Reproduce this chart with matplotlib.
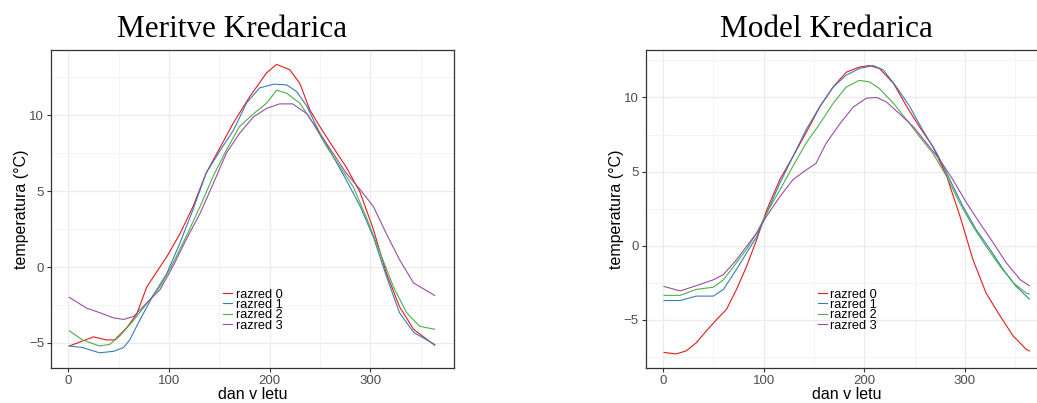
import numpy as np
import matplotlib
matplotlib.use("Agg")
import matplotlib.pyplot as plt
from matplotlib.ticker import MultipleLocator

plt.rcParams['font.family'] = ['Liberation Sans', 'DejaVu Sans']

series_names = ['razred 0', 'razred 1', 'razred 2', 'razred 3']
series_colors = ['#E41A1C', '#377EB8', '#4DAF4A', '#984EA3']

# Meritve Kredarica (measurements): day of year, temperature
meas_days = [
    [1, 25, 38, 46, 58, 68, 78, 88, 98, 111, 124, 137, 151, 164, 180, 197, 207, 220, 230, 240,
     250, 263, 276, 290, 303, 316, 329, 343, 364],
    [1, 14, 31, 45, 55, 61, 71, 84, 98, 111, 124, 137, 151, 164, 177, 190, 204, 217, 227, 237,
     250, 263, 276, 290, 303, 316, 329, 343, 364],
    [1, 14, 31, 41, 51, 65, 78, 91, 104, 117, 131, 144, 157, 170, 184, 197, 207, 217, 230, 243,
     257, 270, 283, 296, 310, 323, 336, 349, 364],
    [1, 18, 31, 45, 55, 65, 78, 91, 104, 117, 131, 144, 157, 170, 184, 197, 210, 223, 237, 250,
     263, 276, 290, 303, 316, 329, 343, 364],
]
meas_temp = [
    [-5.2, -4.6, -4.8, -4.8, -4.0, -3.1, -1.3, -0.3, 0.7, 2.2, 4.0, 6.2, 7.9, 9.5, 11.2, 12.8, 13.35, 13.0, 12.1, 10.35,
     9.25, 7.9, 6.6, 4.9, 2.5, -0.4, -2.6, -4.1, -5.15],
    [-5.2, -5.3, -5.65, -5.55, -5.3, -4.8, -3.5, -1.9, -0.4, 1.6, 3.8, 6.2, 7.7, 9.0, 10.8, 11.8, 12.05, 12.0, 11.55, 10.6,
     8.8, 7.3, 5.75, 4.0, 2.0, -0.6, -3.0, -4.3, -5.1],
    [-4.2, -4.8, -5.2, -5.1, -4.55, -3.5, -2.4, -1.3, 0.25, 2.0, 4.0, 6.0, 7.7, 9.25, 10.1, 10.8, 11.65, 11.45, 10.8, 9.5,
     7.9, 6.6, 5.3, 3.3, 0.9, -1.3, -3.0, -3.9, -4.1],
    [-2.0, -2.7, -3.0, -3.35, -3.45, -3.25, -2.35, -1.5, 0.05, 1.8, 3.55, 5.5, 7.5, 8.8, 9.9, 10.45, 10.75, 10.75, 10.1, 8.8,
     7.5, 6.2, 5.1, 4.0, 2.2, 0.5, -1.05, -1.87],
]

# Model Kredarica: day of year, temperature
model_days = [
    [1, 13, 23, 33, 43, 53, 63, 73, 83, 93, 103, 116, 129, 142, 156, 169, 182, 195, 205, 215,
     229, 242, 255, 268, 282, 295, 308, 321, 335, 348, 361, 364],
    [1, 17, 33, 50, 60, 73, 83, 93, 103, 116, 129, 142, 156, 169, 182, 195, 209, 219, 232, 245,
     258, 272, 285, 298, 311, 325, 338, 351, 364],
    [1, 17, 33, 50, 60, 73, 83, 93, 103, 116, 129, 142, 156, 169, 182, 195, 205, 215, 229, 242,
     255, 268, 282, 295, 308, 321, 335, 348, 361, 364],
    [1, 17, 33, 50, 60, 73, 83, 93, 103, 116, 129, 142, 152, 162, 176, 189, 202, 212, 222, 235,
     249, 262, 275, 288, 302, 315, 328, 341, 355, 364],
]
model_temp = [
    [-7.2, -7.3, -7.1, -6.55, -5.75, -5.0, -4.3, -2.95, -1.4, 0.4, 2.4, 4.45, 6.0, 7.6, 9.4, 10.7, 11.7, 12.05, 12.15, 11.95,
     10.95, 9.4, 8.0, 6.7, 4.65, 2.0, -0.95, -3.2, -4.75, -6.1, -7.0, -7.1],
    [-3.7, -3.7, -3.4, -3.4, -2.95, -1.6, -0.5, 0.6, 2.2, 4.2, 6.0, 7.8, 9.4, 10.7, 11.5, 11.95, 12.15, 11.85, 10.7, 9.4,
     7.8, 6.25, 4.45, 2.65, 1.1, -0.25, -1.6, -2.75, -3.6],
    [-3.35, -3.35, -2.95, -2.8, -2.3, -1.15, -0.25, 0.85, 2.2, 3.75, 5.35, 6.9, 8.25, 9.6, 10.7, 11.15, 11.05, 10.6, 9.6, 8.5,
     7.35, 6.25, 4.65, 2.85, 1.3, -0.05, -1.4, -2.5, -3.2, -3.25],
    [-2.75, -3.05, -2.7, -2.3, -1.95, -0.95, -0.05, 0.85, 2.0, 3.3, 4.45, 5.1, 5.55, 6.9, 8.25, 9.35, 9.95, 10.0, 9.7, 8.9,
     8.0, 6.9, 5.8, 4.45, 2.85, 1.5, 0.2, -1.15, -2.3, -2.7],
]

W, H = 1037, 403
fig = plt.figure(figsize=(W / 100, H / 100), dpi=100)


def panel(left_px, days, temps, ylim, title, title_x):
    ax = fig.add_axes([left_px / W, 35 / H, 403 / W, 318 / H])
    for d, t, name, c in zip(days, temps, series_names, series_colors):
        ax.plot(d, t, color=c, lw=0.8, label=name)
    ax.set_xlim(-17.2, 383.2)
    ax.set_ylim(*ylim)
    ax.xaxis.set_major_locator(MultipleLocator(100))
    ax.xaxis.set_minor_locator(MultipleLocator(50))
    ax.yaxis.set_major_locator(MultipleLocator(5))
    ax.yaxis.set_minor_locator(MultipleLocator(2.5))
    ax.grid(which='major', color='#EBEBEB', lw=0.9)
    ax.grid(which='minor', color='#F2F2F2', lw=0.6)
    ax.set_axisbelow(True)
    for s in ax.spines.values():
        s.set_color('#333333')
        s.set_linewidth(0.9)
    ax.tick_params(which='major', length=3, width=0.8, color='#333333',
                   labelcolor='#4D4D4D', labelsize=9.5, pad=2)
    ax.tick_params(which='minor', length=0)
    ax.set_xlabel('dan v letu', fontsize=11.5, labelpad=0)
    ax.set_ylabel('temperatura (°C)', fontsize=11.5, labelpad=0)
    ax.legend(loc='upper left', bbox_to_anchor=(0.428, 0.25), frameon=False,
              fontsize=9.2, handlelength=0.7, handletextpad=0.25,
              labelspacing=-0.12, borderpad=0, borderaxespad=0)
    fig.text(title_x / W, 1 - 36.7 / H, title, family='Liberation Serif',
             fontsize=22.5, ha='center', va='baseline')
    return ax


panel(51, meas_days, meas_temp, (-6.65, 14.3), 'Meritve Kredarica', 232)
panel(645.7, model_days, model_temp, (-8.25, 13.2), 'Model Kredarica', 826)

fig.savefig('out.png', dpi=100)
